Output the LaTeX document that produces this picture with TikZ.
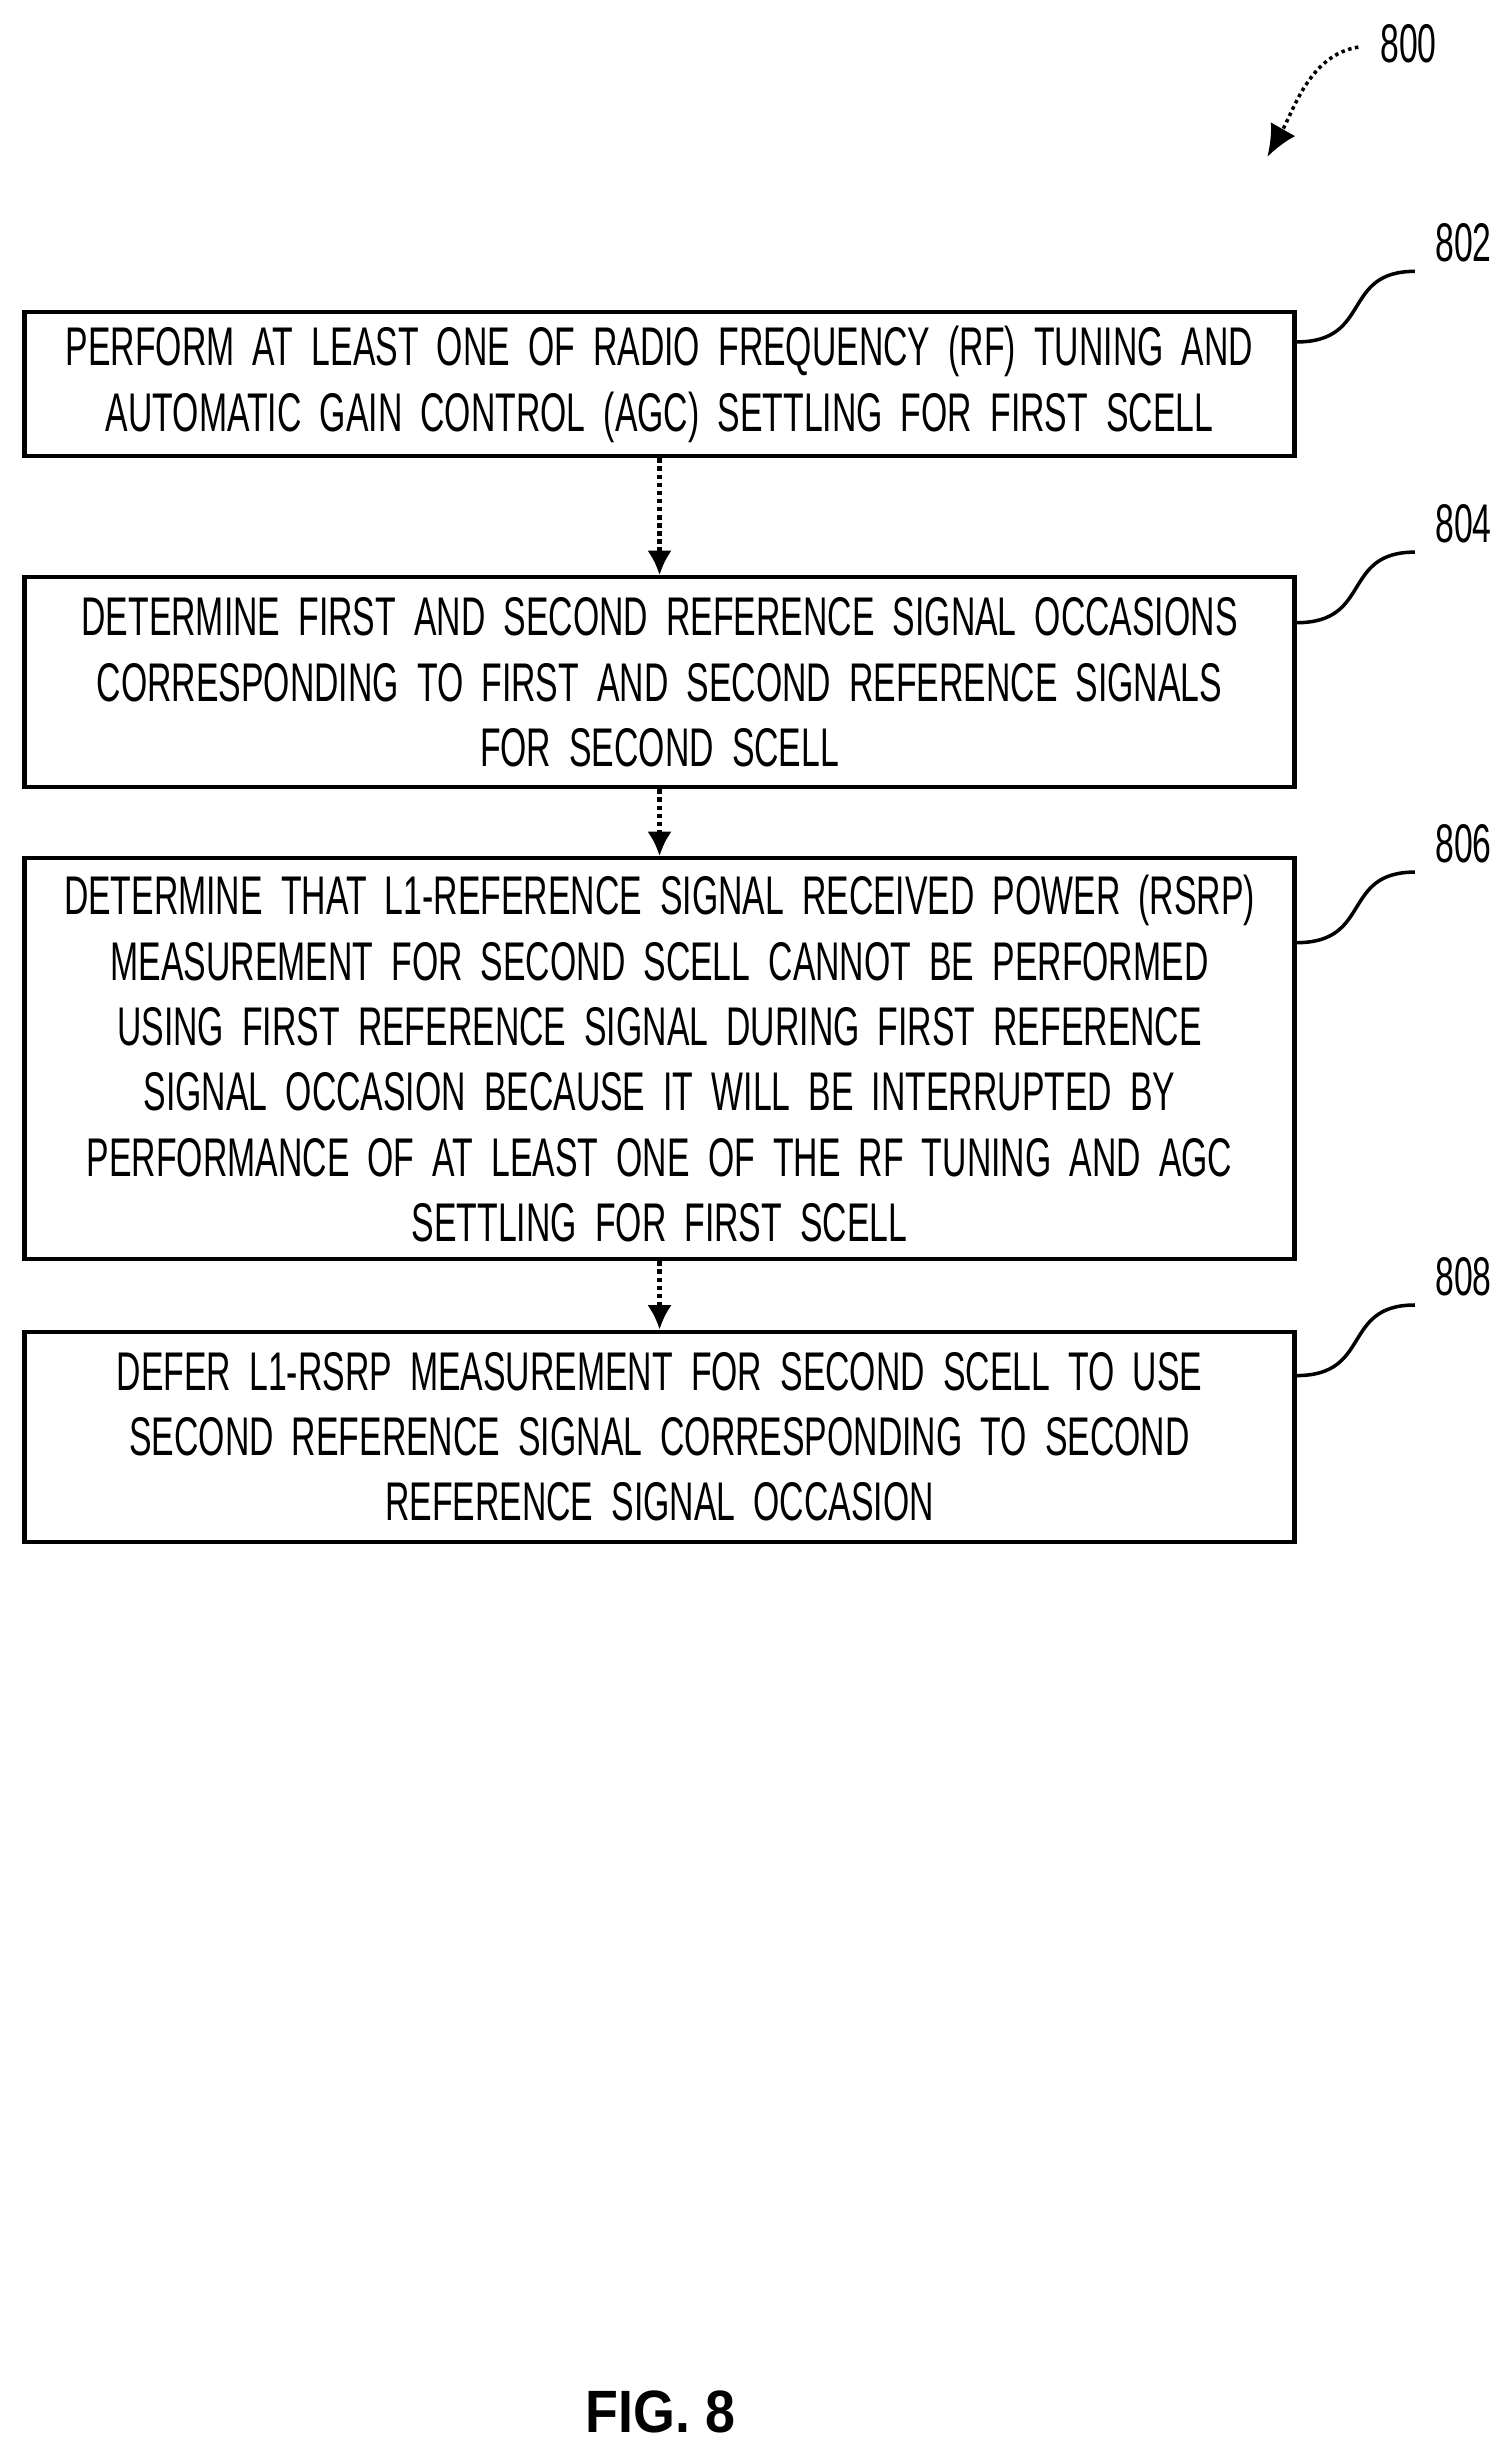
\documentclass[tikz,border=0pt]{standalone}
\usepackage{fontspec}
\newfontfamily\narrowsf[FakeStretch=0.62,WordSpace=0.55]{Liberation Sans}
\newfontfamily\figsf[FakeStretch=0.9]{Liberation Sans}
\usetikzlibrary{arrows.meta}

\tikzset{
  stepbox/.style={draw, line width=1.2pt, align=center, inner sep=2pt,
    minimum width=12.7cm, text width=12.2cm, font=\narrowsf\fontsize{15.5}{18.6}\selectfont},
  flow/.style={densely dotted, line width=1.3pt, -{Latex[length=7pt,width=7pt]}},
  refnum/.style={font=\narrowsf\fontsize{15.5}{18}\selectfont},
  lead/.style={line width=1pt}
}

\begin{document}
\begin{tikzpicture}[x=0.01568cm,y=-0.01568cm]
\useasboundingbox (0,0) rectangle (960,1555);

% figure number
\node[refnum] (n800) at (898,28) {800};
\draw[lead, densely dotted, -{Latex[length=9pt,width=8pt]}] (866,30) .. controls (835,35) and (825,70) .. (808,100);

% steps
\node[stepbox, minimum height=1.44cm] (s802) at (420.5,245)
  {PERFORM AT LEAST ONE OF RADIO FREQUENCY (RF) TUNING AND\\AUTOMATIC GAIN CONTROL (AGC) SETTLING FOR FIRST SCELL};
\node[stepbox, minimum height=2.10cm] (s804) at (420.5,435)
  {DETERMINE FIRST AND SECOND REFERENCE SIGNAL OCCASIONS\\CORRESPONDING TO FIRST AND SECOND REFERENCE SIGNALS\\FOR SECOND SCELL};
\node[stepbox, minimum height=4.01cm] (s806) at (420.5,675)
  {DETERMINE THAT L1-REFERENCE SIGNAL RECEIVED POWER (RSRP)\\MEASUREMENT FOR SECOND SCELL CANNOT BE PERFORMED\\USING FIRST REFERENCE SIGNAL DURING FIRST REFERENCE\\SIGNAL OCCASION BECAUSE IT WILL BE INTERRUPTED BY\\PERFORMANCE OF AT LEAST ONE OF THE RF TUNING AND AGC\\SETTLING FOR FIRST SCELL};
\node[stepbox, minimum height=2.10cm] (s808) at (420.5,916)
  {DEFER L1-RSRP MEASUREMENT FOR SECOND SCELL TO USE\\SECOND REFERENCE SIGNAL CORRESPONDING TO SECOND\\REFERENCE SIGNAL OCCASION};

\draw[flow] (s802) -- (s804);
\draw[flow] (s804) -- (s806);
\draw[flow] (s806) -- (s808);

% reference numerals
\foreach \s/\y in {802/155, 804/334, 806/538, 808/814} {
  \node[refnum] (r\s) at (933,\y) {\s};
  \draw[lead] (s\s.east |- 0,\y+63) .. controls (875,\y+63) and (855,\y+18) .. (902,\y+18);
}

\node[font=\figsf\bfseries\fontsize{17}{20}\selectfont] (fig) at (421,1538) {FIG. 8};
\end{tikzpicture}
\end{document}
